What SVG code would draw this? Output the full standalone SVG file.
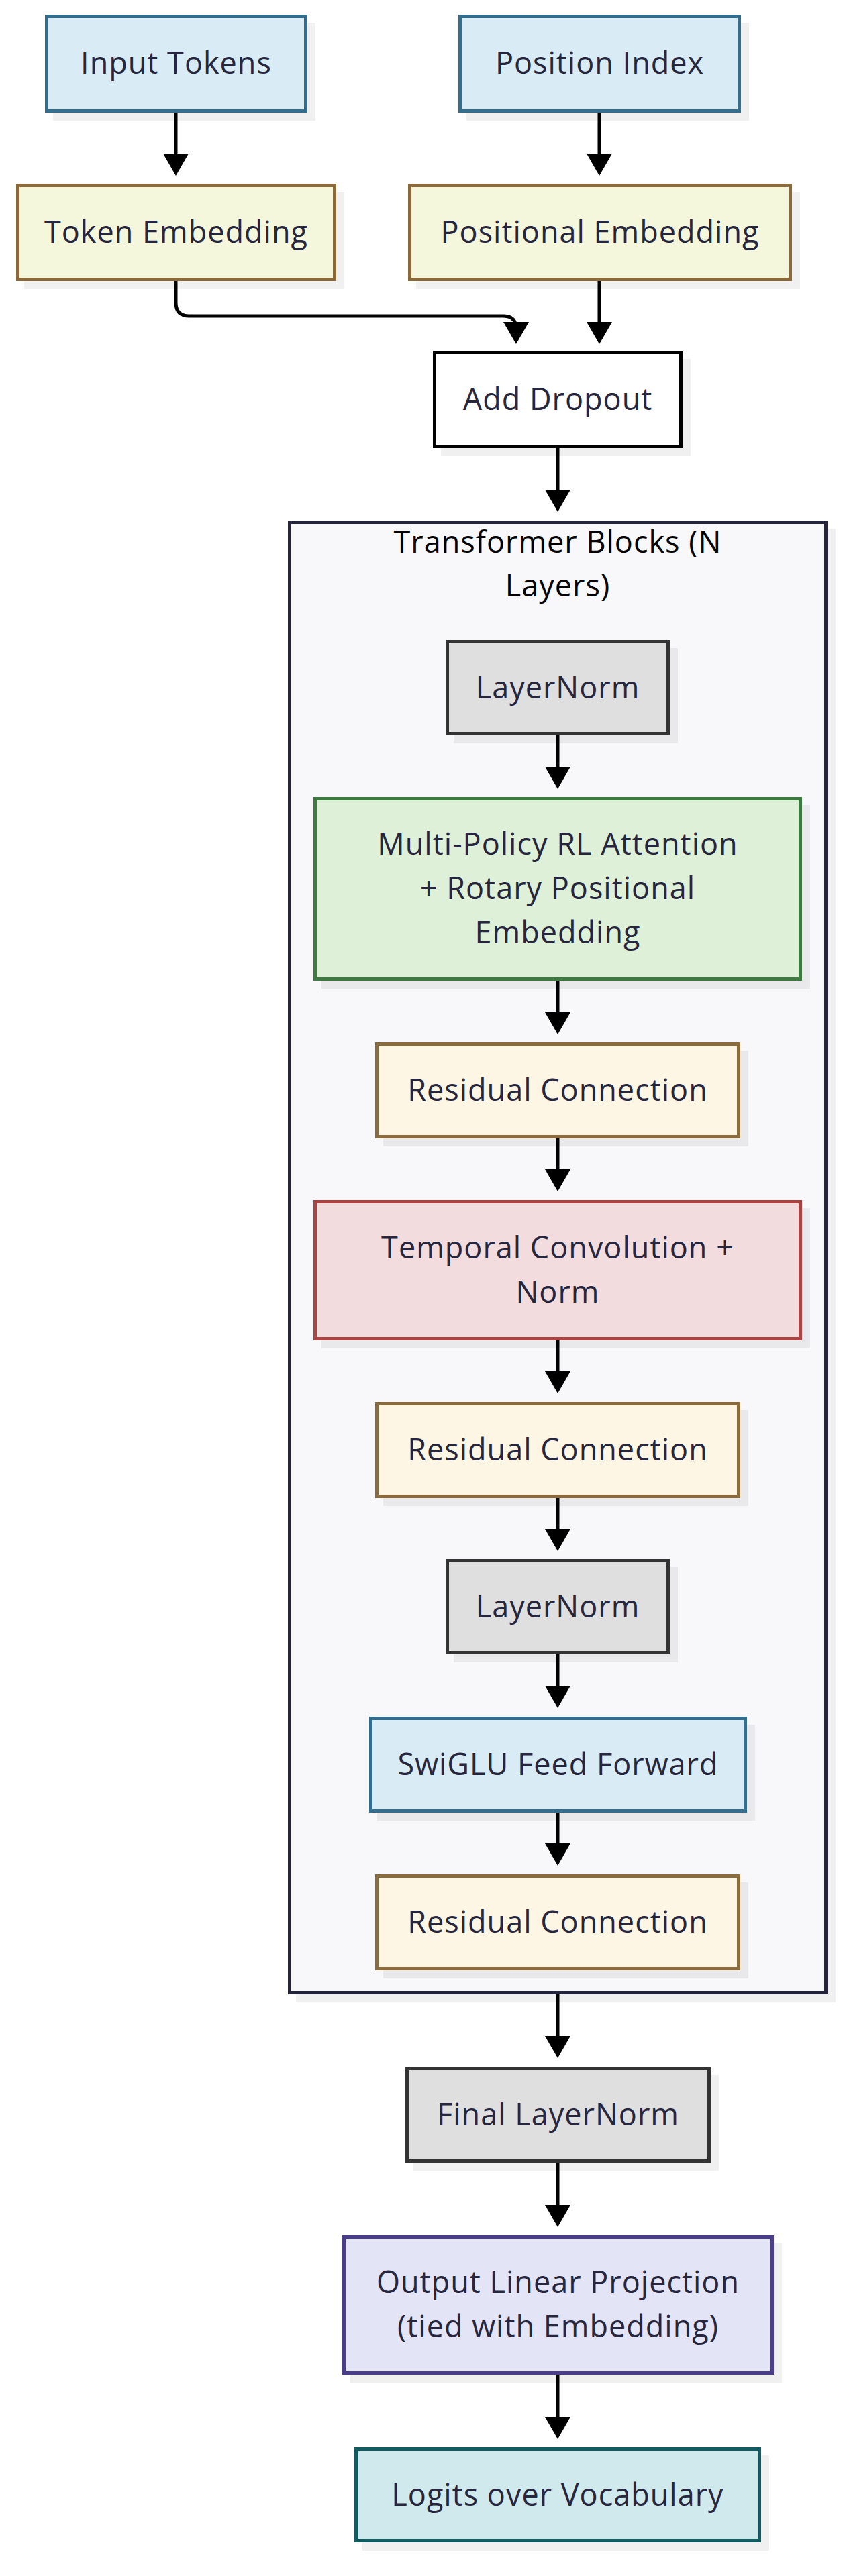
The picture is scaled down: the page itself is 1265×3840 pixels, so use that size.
<svg xmlns="http://www.w3.org/2000/svg" width="1265" height="3840" viewBox="0 0 1265 3840">
<defs>
<marker id="arr" viewBox="0 0 33 38" refX="23" refY="19" markerWidth="33" markerHeight="38" markerUnits="userSpaceOnUse" orient="auto">
<path d="M0,0 L33,19 L0,38 Z" fill="#000"/>
</marker>
</defs>
<style>
text{font-family:"Open Sans","Liberation Sans",sans-serif;font-size:45px;letter-spacing:1px;fill:#26263e;text-anchor:middle;}
.title{fill:#000;}
.sh{fill:#000;fill-opacity:0.06;}
.n{stroke-width:5;}
.blue{fill:#d9ecf5;stroke:#336e8e;}
.olive{fill:#f5f7dc;stroke:#8b6b3c;}
.res{fill:#fdf6e4;stroke:#8b6b3c;}
.white{fill:#ffffff;stroke:#000000;}
.gray{fill:#dfdfdf;stroke:#333333;}
.green{fill:#dff0d8;stroke:#3d7a3f;}
.red{fill:#f2dcde;stroke:#a94442;}
.purple{fill:#e4e4f7;stroke:#4a3d8c;}
.teal{fill:#d0e9ed;stroke:#0f5b60;}
.e{fill:none;stroke:#000;stroke-width:5;marker-end:url(#arr);}
</style>
<rect width="1265" height="3840" fill="#ffffff"/>

<g id="cluster-transformer">
<rect class="sh" x="441" y="788" width="804" height="2197"/>
<rect x="431.5" y="778.5" width="799" height="2192" fill="#f8f8fa" stroke="#24243c" stroke-width="5"/>
<text class="title" x="831" y="824">Transformer Blocks (N</text>
<text class="title" x="831" y="889">Layers)</text>
</g>

<g id="edges">
<path class="e" d="M262,168 V252"/>
<path class="e" d="M893,168 V252"/>
<path class="e" d="M262,419 V451 Q262,471 282,471 H750 Q769,471 769,490 V503"/>
<path class="e" d="M893,419 V503"/>
<path class="e" d="M831,668 V753"/>
<path class="e" d="M831,1096 V1166"/>
<path class="e" d="M831,1462 V1532"/>
<path class="e" d="M831,1697 V1766"/>
<path class="e" d="M831,1998 V2067"/>
<path class="e" d="M831,2233 V2302"/>
<path class="e" d="M831,2466 V2536"/>
<path class="e" d="M831,2702 V2771"/>
<path class="e" d="M831,2973 V3058"/>
<path class="e" d="M831,3224 V3310"/>
<path class="e" d="M831,3540 V3626"/>
</g>

<g id="input-tokens">
<rect class="sh" x="79" y="34" width="391" height="146"/>
<rect class="n blue" x="69.5" y="24.5" width="386" height="141"/>
<text x="262.5" y="110">Input Tokens</text>
</g>

<g id="position-index">
<rect class="sh" x="695" y="34" width="421" height="146"/>
<rect class="n blue" x="685.5" y="24.5" width="416" height="141"/>
<text x="893.5" y="110">Position Index</text>
</g>

<g id="token-embedding">
<rect class="sh" x="36" y="286" width="477" height="145"/>
<rect class="n olive" x="26.5" y="276.5" width="472" height="140"/>
<text x="262.5" y="362">Token Embedding</text>
</g>

<g id="positional-embedding">
<rect class="sh" x="620" y="286" width="572" height="145"/>
<rect class="n olive" x="610.5" y="276.5" width="567" height="140"/>
<text x="894" y="362">Positional Embedding</text>
</g>

<g id="add-dropout">
<rect class="sh" x="657" y="535" width="372" height="145"/>
<rect class="n white" x="647.5" y="525.5" width="367" height="140"/>
<text x="831" y="611">Add Dropout</text>
</g>

<g id="layernorm-1">
<rect class="sh" x="676" y="966" width="334" height="142"/>
<rect class="n gray" x="666.5" y="956.5" width="329" height="137"/>
<text x="831" y="1041">LayerNorm</text>
</g>

<g id="multi-policy-attention">
<rect class="sh" x="479" y="1200" width="728" height="274"/>
<rect class="n green" x="469.5" y="1190.5" width="723" height="269"/>
<text x="831" y="1274">Multi-Policy RL Attention</text>
<text x="831" y="1340">+ Rotary Positional</text>
<text x="831" y="1406">Embedding</text>
</g>

<g id="residual-1">
<rect class="sh" x="571" y="1566" width="544" height="143"/>
<rect class="n res" x="561.5" y="1556.5" width="539" height="138"/>
<text x="831" y="1641">Residual Connection</text>
</g>

<g id="temporal-convolution">
<rect class="sh" x="479" y="1801" width="728" height="209"/>
<rect class="n red" x="469.5" y="1791.5" width="723" height="204"/>
<text x="831" y="1876">Temporal Convolution +</text>
<text x="831" y="1942">Norm</text>
</g>

<g id="residual-2">
<rect class="sh" x="571" y="2102" width="544" height="143"/>
<rect class="n res" x="561.5" y="2092.5" width="539" height="138"/>
<text x="831" y="2177">Residual Connection</text>
</g>

<g id="layernorm-2">
<rect class="sh" x="676" y="2336" width="334" height="142"/>
<rect class="n gray" x="666.5" y="2326.5" width="329" height="137"/>
<text x="831" y="2411">LayerNorm</text>
</g>

<g id="swiglu-ffn">
<rect class="sh" x="562" y="2571" width="563" height="143"/>
<rect class="n blue" x="552.5" y="2561.5" width="558" height="138"/>
<text x="831.5" y="2646">SwiGLU Feed Forward</text>
</g>

<g id="residual-3">
<rect class="sh" x="571" y="2806" width="544" height="143"/>
<rect class="n res" x="561.5" y="2796.5" width="539" height="138"/>
<text x="831" y="2881">Residual Connection</text>
</g>

<g id="final-layernorm">
<rect class="sh" x="616" y="3093" width="455" height="143"/>
<rect class="n gray" x="606.5" y="3083.5" width="450" height="138"/>
<text x="831.5" y="3168">Final LayerNorm</text>
</g>

<g id="output-projection">
<rect class="sh" x="522" y="3344" width="643" height="208"/>
<rect class="n purple" x="512.5" y="3334.5" width="638" height="203"/>
<text x="831.5" y="3418">Output Linear Projection</text>
<text x="831.5" y="3484">(tied with Embedding)</text>
</g>

<g id="logits">
<rect class="sh" x="540" y="3660" width="606" height="142"/>
<rect class="n teal" x="530.5" y="3650.5" width="601" height="137"/>
<text x="831" y="3735">Logits over Vocabulary</text>
</g>
</svg>
